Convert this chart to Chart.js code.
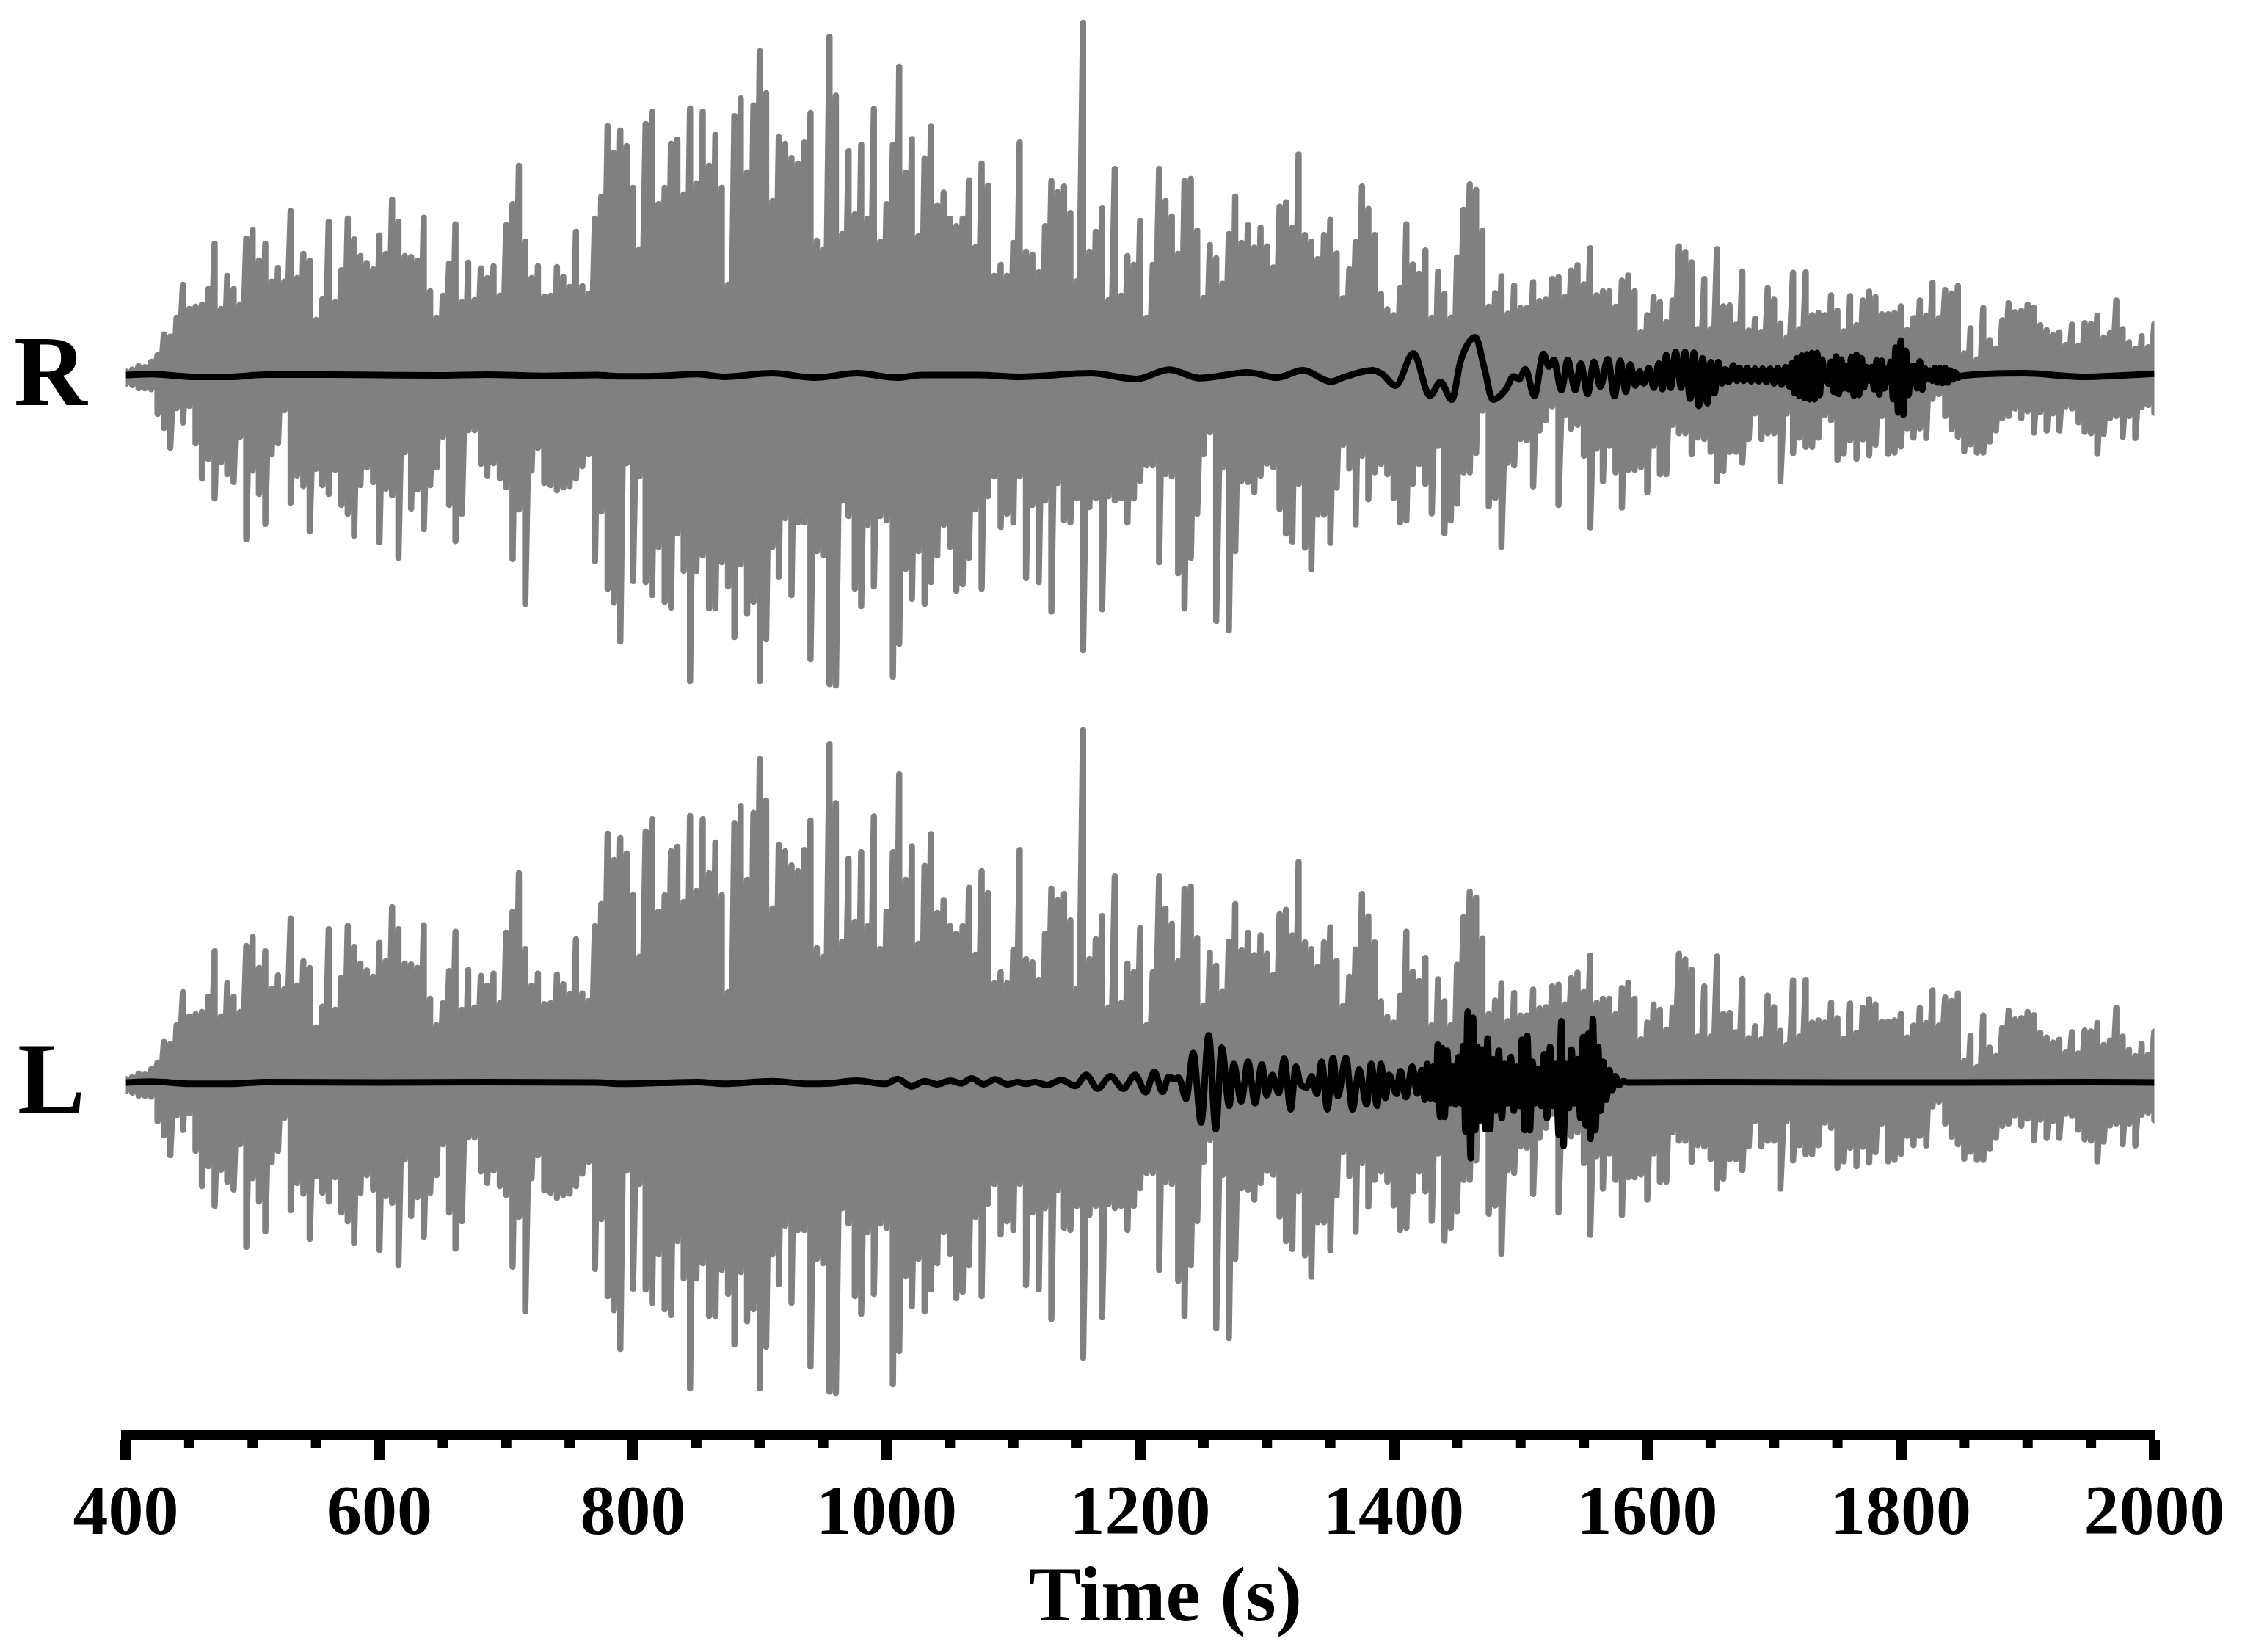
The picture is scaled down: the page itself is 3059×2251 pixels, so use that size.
<!DOCTYPE html>
<html>
<head>
<meta charset="utf-8">
<title>Time trace</title>
<script src="https://cdn.jsdelivr.net/npm/chart.js@4/dist/chart.umd.js"></script>
<style>
    html, body { margin: 0; padding: 0; background: #fff; }
    canvas { display: block; }
</style>
</head>
<body>
<canvas id="trace" width="3059" height="2251"></canvas>
<script>
// Grey trace, sampled every 5 s from 400 s: how far it reaches above and below zero
const greyUp = [
    8,12,20,18,30,45,92,87,130,205,
    150,155,160,195,298,150,225,195,160,310,
    330,260,298,212,243,212,372,220,275,260,
    125,172,348,165,238,355,308,270,254,240,
    317,275,398,348,270,268,260,357,190,130,
    180,253,342,165,255,170,242,220,247,180,
    340,388,475,303,220,247,178,180,245,223,
    200,325,202,185,355,405,565,505,555,520,
    425,285,570,598,388,425,525,535,410,605,
    435,598,475,545,425,205,588,628,460,612,
    735,640,395,540,525,493,480,528,595,305,
    285,768,634,320,508,365,523,355,604,303,
    388,523,700,460,536,315,492,564,385,414,
    355,338,355,442,290,480,430,225,250,225,
    300,528,280,273,233,338,440,415,428,368,
    213,800,280,325,378,170,468,180,270,250,
    350,130,250,468,395,360,275,440,445,328,
    175,295,265,207,320,405,300,340,289,334,
    292,244,382,392,334,501,318,303,263,318,
    352,276,174,240,302,428,377,318,184,149,
    136,197,342,251,230,283,130,234,184,130,
    267,375,433,420,327,155,186,224,139,203,
    152,152,211,168,171,218,222,177,237,249,
    206,288,181,190,190,155,214,226,190,98,
    136,177,165,120,169,292,279,256,104,218,
    104,286,156,158,114,235,101,128,98,197,
    171,117,85,232,104,233,136,141,136,181,
    146,99,179,113,169,189,177,138,138,141,
    156,102,129,169,135,209,129,193,185,202,
    49,106,35,152,79,60,124,163,143,146,
    160,153,113,102,91,97,68,114,66,118,
    116,135,85,95,169,104,74,60,88,63,
    116
];
const greyDown = [
    20,23,30,30,32,88,120,165,75,108,
    70,155,235,190,280,198,225,243,140,373,
    217,270,338,180,155,80,290,228,252,355,
    213,250,270,215,295,315,365,250,210,243,
    380,258,273,415,175,303,260,350,250,210,
    140,295,377,315,125,125,202,228,200,235,
    255,418,305,520,217,165,245,250,262,255,
    252,235,207,180,423,310,485,517,605,200,
    468,230,470,500,390,515,528,360,445,695,
    445,410,530,530,425,480,595,430,542,515,
    695,600,390,458,325,500,335,335,645,400,
    410,702,705,285,320,485,525,340,480,320,
    330,685,610,440,508,400,520,470,410,340,
    390,490,475,415,305,485,275,230,345,315,
    335,230,460,295,470,285,537,245,330,335,
    280,625,300,280,532,275,285,280,335,280,
    240,205,205,425,225,230,450,530,415,315,
    180,130,558,210,580,400,240,243,266,228,
    201,209,304,360,378,247,392,441,317,317,
    381,256,158,212,339,183,282,221,202,225,
    279,335,330,247,202,247,314,161,359,330,
    292,221,221,177,81,298,279,390,199,205,
    145,148,253,126,103,71,295,91,122,113,
    183,346,167,241,161,221,301,215,215,209,
    266,161,225,225,113,132,132,180,142,145,
    174,241,218,174,174,199,145,87,145,132,
    132,241,87,177,142,163,163,142,91,103,
    193,179,148,190,146,182,158,93,179,176,
    162,121,142,121,143,54,43,93,123,140,
    173,157,176,176,151,126,98,93,76,98,
    82,131,84,126,87,126,71,76,107,129,
    132,179,134,97,93,140,93,143,73,68,
    86
];

// Black trace, R channel
const rightTimes = [
    400,420,452,482,510,560,600,645,685,730,
    771,792,822,851,872,910,943,977,1008,1028,
    1073,1105,1161,1197,1223,1247,1285,1293.7,1307.8,1328.5,
    1350.4,1361.6,1383.7,1391,1401.5,1415.6,1428.6,1436.9,1445.8,1453.1,
    1464.4,1471.5,1478.2,1488.6,1494.5,1498.9,1503.9,1511,1518.1,1522.5,
    1526.4,1532.3,1537.3,1543.2,1547.6,1553,1558,1563,1568.9,1574.2,
    1578.7,1583.1,1586.6,1590.5,1594,1597.3,1601.4,1605.2,1609.1,1612,
    1615,1618.5,1622.4,1626.8,1629.8,1633.9,1636.8,1640.7,1643.6,1647.5,
    1650.1,1653.1,1656,1659,1661.3,1664.3,1667.9,1670.8,1673,1676,
    1679,1682,1685,1688,1691,1694,1697,1700,1703,1706,
    1709,1712,1714,1716,1718,1720,1722,1724,1726,1728,
    1730,1732,1734,1736,1738,1740,1741.5,1743,1745,1747,
    1749,1751,1753,1755,1757,1759,1761,1763,1765,1767,
    1769,1771,1773,1775,1777,1779,1781,1783,1785,1787,
    1789,1790.5,1792,1794,1796,1798,1800,1802,1804,1806,
    1808,1809.5,1811,1813,1815,1817,1819,1821,1823,1825,
    1827,1829,1831,1833,1835,1837,1839,1841,1843,1845,
    1848,1897,1943,2000
];
const rightValues = [
    0,2,-4,-4,1,1,0,-1,1,-2,
    0,-3,-2,2,-4,4,-6,4,-6,0,
    0,-4,4,-9,12,-7,6,2,-6,11,
    -15,-4,11,2,-24,49,-47,-16,-56,35,
    86,16,-56,-32,-3,-10,13,-47,48,19,
    34,-34,34,-34,26,-43,30,-27,36,-48,
    32,-38,24,-24,8,-19,16,-29,26,-32,
    45,-29,52,-29,52,-54,51,-70,38,-64,
    29,-41,29,-19,13,-16,22,-13,16,-13,
    16,-14,14,-14,14,-16,14,-19,16,-22,
    18,-26,26,-40,38,-48,44,-52,47,-55,
    50,-55,50,-45,35,-12,6,-20,30,-38,
    42,-43,35,-30,20,-32,40,-47,46,-45,
    38,-28,18,-12,18,-32,33,-44,32,-30,
    14,-14,30,-55,62,-85,78,-90,55,-45,
    20,-12,20,-30,31,-33,15,-8,10,-13,
    16,-17,15,-18,16,-17,10,-10,6,-6,
    -2,4,-4,3
];

// Black trace, L channel
const leftTimes = [
    400,420,452,482,510,600,685,771,792,851,
    872,910,937.5,954.9,976,999,1008.8,1019.5,1030,1039.8,
    1050.4,1059,1067,1076.8,1085.6,1095.5,1103.4,1110,1117,1126.6,
    1138,1148.8,1157.5,1166.5,1176.6,1186.8,1196,1204.4,1211.2,1217.7,
    1222.8,1226.6,1230.4,1236.3,1241.9,1248.1,1254.1,1259.7,1264.4,1270.3,
    1273.8,1279.8,1285.1,1290.7,1296,1299.8,1304.3,1309.3,1313.7,1318.7,
    1322.9,1326.4,1331.4,1335.3,1339.4,1343.2,1347.7,1352.1,1355.9,1362.4,
    1367.5,1372.8,1378.7,1382.2,1387,1389.9,1393.5,1396.4,1402.3,1405.3,
    1409.7,1414.7,1418.6,1422.1,1424.5,1426.5,1428.9,1431.3,1433.3,1434.8,
    1436.6,1438.3,1440.1,1442.2,1444.3,1446.6,1448.7,1451,1453.1,1454.9,
    1456.7,1458.4,1460.8,1462.6,1464.3,1466.1,1468.2,1470.2,1472.3,1474.1,
    1476.1,1478.2,1480.6,1482.9,1485.3,1487.7,1490,1492.4,1494.8,1496.8,
    1499.2,1501.2,1503.3,1505.4,1507.4,1509.5,1511.6,1513.9,1516.3,1518.7,
    1521,1523.4,1525.8,1528.1,1530.2,1532.3,1534,1535.8,1538.2,1540.2,
    1542.6,1545,1547.3,1549.4,1551.5,1553.5,1555.3,1557.1,1559.1,1561.2,
    1563.3,1565.3,1567.7,1570.1,1572.4,1574.8,1578,1581,1584,1650,
    1750,1850,1950,2000
];
const leftValues = [
    0,2,-3,-3,1,0,1,0,-3,1,
    -3,3,-3,-2,4,-3,8,-9,3,-4,
    4,-2,9,-4,7,-4,1,-3,1,-6,
    6,-8,17,-14,14,-14,17,-22,24,-21,
    13,8,11,-37,67,-91,107,-106,79,-53,
    42,-43,47,-47,41,-29,17,-24,54,-61,
    36,-3,-11,14,-26,47,-61,56,-31,56,
    -61,29,-50,42,-53,42,-35,17,-26,26,
    -33,36,-25,28,-39,42,-36,36,-39,86,
    -78,78,-78,72,-47,36,-50,58,-47,83,
    -111,161,-172,147,-108,81,-86,75,-106,100,
    -106,53,-64,72,-81,42,-47,58,-64,36,
    -53,97,-108,106,-108,47,-47,31,-53,64,
    -81,81,-53,42,-119,139,-144,42,-58,75,
    -47,53,-81,103,-97,111,-128,144,-108,81,
    -64,47,-39,28,-17,14,-6,3,0,1,
    0,0,1,0
];

const minorTicks = [450,500,550,650,700,750,850,900,950,1050,1100,1150,1250,1300,1350,1450,1500,1550,1650,1700,1750,1850,1900,1950];
const xTitle = 'Time (s)';
const channelLabels = ['R', 'L'];

// one vertical stroke per sample, up then down
const greyTrace = [];
greyUp.forEach((up, i) => {
    const t = 400 + i * 5;
    greyTrace.push({ x: t, y: up });
    greyTrace.push({ x: t, y: -greyDown[i] });
});

const pairUp = (times, values) => times.map((t, i) => ({ x: t, y: values[i] }));

// cut at both ends of the time axis, free above and below
const sideClip = { left: 0, right: 0, top: false, bottom: false };

const greyStyle = {
    borderColor: '#808080',
    borderWidth: 8.5,
    borderJoinStyle: 'round',
    borderCapStyle: 'round',
    pointRadius: 0,
    tension: 0,
    clip: sideClip,
    order: 2
};
const blackStyle = {
    borderColor: '#000000',
    borderWidth: 9,
    borderJoinStyle: 'round',
    borderCapStyle: 'butt',
    pointRadius: 0,
    cubicInterpolationMode: 'monotone',
    clip: sideClip,
    order: 1
};

// R/L labels, the x title and the short ticks
const extras = {
    id: 'extras',
    afterDraw(chart) {
        const { ctx, scales } = chart;
        const x = scales.x;
        const axisY = chart.chartArea.bottom;
        ctx.save();
        ctx.fillStyle = '#000';
        minorTicks.forEach(t => {
            ctx.fillRect(x.getPixelForValue(t) - 7, axisY, 14, 18);
        });
        ctx.textBaseline = 'alphabetic';
        ctx.textAlign = 'left';
        ctx.font = 'bold 138px "Liberation Serif"';
        ctx.fillText(channelLabels[0], 19, scales.yR.getPixelForValue(0) + 41);
        ctx.fillText(channelLabels[1], 24, scales.yL.getPixelForValue(0) + 41);
        ctx.textAlign = 'center';
        ctx.font = 'bold 106px "Liberation Serif"';
        ctx.fillText(xTitle, x.getPixelForValue(1220), 2208);
        ctx.restore();
    }
};

new Chart(document.getElementById('trace').getContext('2d'), {
    type: 'line',
    data: {
        datasets: [
            { label: 'R grey', data: greyTrace, yAxisID: 'yR', ...greyStyle },
            { label: 'L grey', data: greyTrace, yAxisID: 'yL', ...greyStyle },
            { label: 'R', data: pairUp(rightTimes, rightValues), yAxisID: 'yR', ...blackStyle },
            { label: 'L', data: pairUp(leftTimes, leftValues), yAxisID: 'yL', ...blackStyle }
        ]
    },
    options: {
        responsive: false,
        animation: false,
        layout: { padding: { left: 171.5, right: 123.5, top: 0, bottom: 0 } },
        plugins: { legend: { display: false }, tooltip: { enabled: false }, title: { display: false } },
        scales: {
            x: {
                type: 'linear',
                min: 400,
                max: 2000,
                border: { display: true, width: 14, color: '#000' },
                grid: { drawOnChartArea: false, drawTicks: true, tickLength: 35, tickWidth: 15, tickColor: '#000' },
                ticks: {
                    stepSize: 200,
                    autoSkip: false,
                    maxRotation: 0,
                    padding: 18,
                    color: '#000',
                    font: { family: 'Liberation Serif', size: 96, weight: 'bold' },
                    callback: value => String(value)
                },
                afterFit(scale) { scale.height = 296; }
            },
            yR: { display: false, min: -2406.67, max: 851.67 },
            yL: { display: false, min: -800, max: 2458.33 }
        }
    },
    plugins: [extras]
});
</script>
</body>
</html>
